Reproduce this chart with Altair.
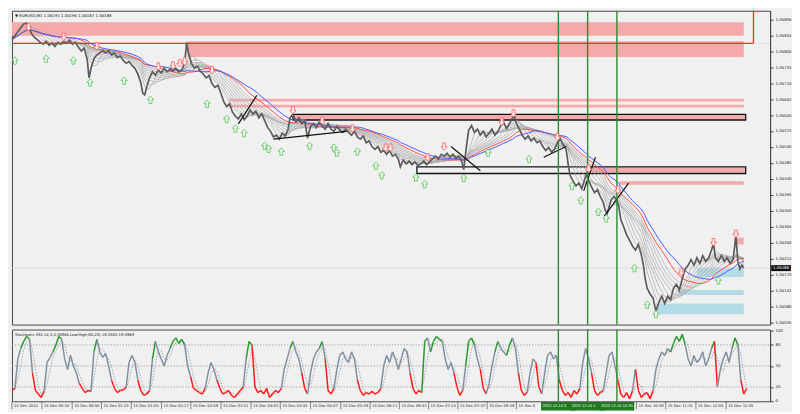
import altair as alt
import pandas as pd

# ---------------- data ----------------
bars = [0, 3, 6, 9, 12, 15, 17, 20, 23, 26,
        29, 32, 35, 38, 41, 44, 47, 50, 53, 56,
        59, 62, 65, 68, 71, 74, 77, 79, 81, 84,
        87, 90, 93, 96, 99, 102, 105, 108, 111, 114,
        117, 120, 123, 126, 129, 132, 134, 136, 138, 141,
        144, 147, 150, 153, 156, 159, 162, 165, 168, 171,
        174, 177, 179, 181, 184, 187, 190, 193, 196, 199,
        202, 205, 208, 211, 214, 217, 220, 223, 226, 229,
        232, 235, 238, 241, 244, 247, 250, 253, 256, 259,
        262, 265, 268, 271, 274, 277, 280, 283, 285, 288,
        291, 294, 297, 300, 303, 306, 309, 312, 315, 318,
        321, 324, 327, 330, 333, 336, 339, 342, 345, 348,
        351, 354, 357, 360, 363, 366, 369, 372, 375, 378,
        381, 384, 387, 390, 393, 396, 398, 401, 404, 407,
        410, 413, 416, 419, 422, 425, 428, 431, 434, 437,
        440, 443, 446, 449, 452, 455, 458, 461, 463, 466,
        468, 471, 474, 477, 480, 483, 486, 489, 492, 495,
        498, 501, 504, 507, 510, 513, 515, 517, 520, 523,
        526, 529, 532, 535, 538, 541, 544, 547, 550, 553,
        556, 559, 562, 565, 568, 570, 572, 575, 578, 581,
        584, 587, 589, 591, 594, 597, 600, 603, 606, 608,
        610, 612, 614, 617, 620, 622, 624, 627, 630, 633,
        636, 639, 642, 645, 647, 649, 651, 654, 657, 660,
        663, 666, 669, 672, 675, 678, 681, 684, 687, 690,
        693, 696, 699, 702, 705, 708, 711, 714, 717, 719,
        721, 724, 727, 730, 733, 736, 739, 742, 744, 746,
        748, 750]

close_points = [106833, 106844, 106855, 106866, 106877, 106879, 106871, 106850, 106839, 106833,
                106825, 106820, 106828, 106817, 106823, 106814, 106825, 106820, 106828, 106823,
                106831, 106820, 106825, 106812, 106801, 106809, 106779, 106725, 106752, 106779,
                106790, 106795, 106801, 106795, 106801, 106790, 106795, 106782, 106787, 106774,
                106766, 106771, 106760, 106752, 106736, 106712, 106682, 106677, 106698, 106725,
                106742, 106733, 106747, 106739, 106752, 106742, 106750, 106744, 106752, 106742,
                106747, 106766, 106825, 106793, 106766, 106752, 106758, 106744, 106736, 106725,
                106731, 106709, 106698, 106704, 106682, 106658, 106644, 106652, 106628, 106617,
                106609, 106623, 106607, 106617, 106634, 106623, 106631, 106612, 106623, 106604,
                106585, 106574, 106558, 106563, 106552, 106569, 106561, 106580, 106612, 106623,
                106601, 106612, 106596, 106604, 106555, 106588, 106596, 106585, 106601, 106590,
                106580, 106596, 106580, 106574, 106588, 106577, 106571, 106580, 106571, 106563,
                106574, 106558, 106552, 106561, 106542, 106547, 106531, 106523, 106531, 106515,
                106520, 106509, 106520, 106504, 106509, 106496, 106474, 106493, 106482, 106490,
                106480, 106488, 106477, 106482, 106490, 106480, 106488, 106496, 106504, 106496,
                106509, 106504, 106512, 106501, 106509, 106498, 106504, 106488, 106466, 106536,
                106577, 106590, 106571, 106580, 106563, 106574, 106558, 106569, 106580, 106563,
                106574, 106590, 106598, 106582, 106596, 106612, 106617, 106596, 106580, 106563,
                106552, 106561, 106547, 106555, 106542, 106547, 106531, 106520, 106528, 106515,
                106523, 106542, 106552, 106536, 106523, 106482, 106450, 106434, 106420, 106428,
                106412, 106439, 106455, 106434, 106417, 106401, 106409, 106390, 106374, 106352,
                106342, 106361, 106380, 106390, 106380, 106361, 106325, 106304, 106282, 106266,
                106250, 106239, 106255, 106226, 106199, 106158, 106131, 106115, 106104, 106066,
                106091, 106109, 106088, 106109, 106099, 106131, 106142, 106126, 106158, 106185,
                106196, 106212, 106196, 106217, 106201, 106223, 106207, 106217, 106239, 106258,
                106217, 106207, 106223, 106207, 106217, 106201, 106212, 106277, 106207, 106185,
                106196, 106188]

stoch_values = [15, 18, 60, 75, 85, 92, 88, 40, 15, 10,
                5, 15, 55, 62, 70, 80, 92, 88, 60, 45,
                65, 50, 40, 25, 18, 12, 15, 14, 70, 88,
                70, 62, 68, 50, 30, 18, 12, 15, 16, 20,
                55, 65, 55, 30, 15, 8, 10, 15, 60, 85,
                70, 60, 50, 65, 75, 85, 90, 82, 88, 80,
                50, 35, 18, 15, 12, 10, 18, 40, 55, 45,
                30, 18, 10, 12, 15, 8, 5, 10, 15, 20,
                60, 85, 80, 20, 12, 15, 10, 18, 5, 10,
                15, 12, 18, 45, 60, 75, 85, 70, 60, 40,
                18, 10, 40, 60, 70, 75, 85, 60, 15, 10,
                18, 45, 65, 70, 60, 55, 70, 60, 30, 15,
                8, 12, 10, 14, 10, 12, 18, 50, 65, 55,
                70, 60, 45, 60, 75, 70, 40, 18, 10, 15,
                12, 85, 90, 70, 85, 92, 88, 85, 60, 45,
                55, 40, 20, 8, 15, 50, 85, 90, 80, 60,
                45, 18, 10, 25, 50, 70, 85, 75, 70, 65,
                80, 90, 75, 40, 15, 8, 12, 40, 60, 55,
                20, 10, 40, 65, 70, 60, 65, 30, 15, 8,
                12, 5, 15, 10, 18, 55, 75, 60, 40, 15,
                8, 12, 15, 40, 65, 70, 50, 30, 10, 5,
                12, 3, 15, 45, 15, 5, 10, 12, 3, 15,
                45, 60, 70, 65, 75, 70, 82, 92, 85, 95,
                80, 60, 50, 65, 55, 60, 70, 50, 60, 75,
                85, 20, 45, 60, 70, 55, 75, 90, 80, 30,
                10, 18]
stoch_bars = list(range(0, 3 * len(stoch_values), 3))

# supply / demand zones: start bar, end bar, upper price, lower price (points)
pink_t0 = [0, 180, 222, 222, 288, 592, 622, 740]
pink_t1 = [750, 750, 750, 750, 752, 752, 750, 750]
pink_hi = [106882, 106828, 106666, 106649, 106622, 106471, 106433, 106274]
pink_lo = [106844, 106784, 106658, 106641, 106606, 106458, 106423, 106255]

blue_t0 = [702, 683, 660]
blue_t1 = [750, 750, 750]
blue_hi = [106190, 106126, 106088]
blue_lo = [106163, 106112, 106058]

box_t0 = [288, 415]
box_t1 = [752, 752]
box_hi = [106622, 106474]
box_lo = [106606, 106455]

# trend segments
seg_t0 = [232, 268, 450, 545, 586, 607]
seg_p0 = [106595, 106552, 106531, 106501, 106406, 106334]
seg_t1 = [251, 343, 480, 568, 598, 632]
seg_p1 = [106676, 106574, 106463, 106531, 106501, 106428]

# signal arrows
up_t = [3, 35, 63, 80, 115, 142, 200, 220, 229, 238, 259, 263, 276, 305, 330, 333, 354, 373,
        379, 414, 423, 463, 488, 530, 574, 583, 601, 609, 638, 651, 660, 724]
up_p = [106774, 106779, 106774, 106712, 106717, 106663, 106652, 106609, 106582, 106569,
        106533, 106525, 106517, 106533, 106528, 106514, 106517, 106477, 106450, 106444,
        106425, 106442, 106514, 106496, 106420, 106379, 106347, 106328, 106188, 106085,
        106058, 106153]
dn_t = [17, 53, 87, 150, 165, 172, 177, 205, 288, 318, 349, 383, 388, 426, 443, 502, 514,
        559, 591, 621, 686, 719, 742]
dn_p = [106868, 106841, 106814, 106757, 106760, 106766, 106771, 106747, 106633, 106604,
        106582, 106528, 106528, 106501, 106531, 106601, 106625, 106558, 106469, 106409,
        106177, 106261, 106285]

vline_t = [560, 590, 620]
vline_labels = ["2022.12.15 09:33", "2022.12.15 10:05", "2022.12.15 10:35"]

time_ticks = [0, 30.7, 61.7, 91.7, 122.3, 153.3, 183.3, 214.3, 245, 275, 306, 337, 367,
              397, 427, 457, 487, 517, 640, 670, 701, 732]
time_labels = ["14 Dec 2022", "15 Dec 00:10", "15 Dec 00:50", "15 Dec 01:23", "15 Dec 01:55",
               "15 Dec 02:27", "15 Dec 02:59", "15 Dec 03:31", "15 Dec 04:03", "15 Dec 04:35",
               "15 Dec 05:07", "15 Dec 05:39", "15 Dec 06:11", "15 Dec 06:43", "15 Dec 07:15",
               "15 Dec 07:47", "15 Dec 08:19", "15 Dec 08:51", "15 Dec 10:59", "15 Dec 11:31",
               "15 Dec 12:03", "15 Dec 12:35"]

price_ticks_pts = [106035, 106080, 106125, 106170, 106215, 106260, 106305, 106350, 106395,
                   106440, 106485, 106530, 106575, 106620, 106665, 106710, 106755, 106800,
                   106845, 106890]
resist_level = 106822
last_price = 106188
header_text = "▼ EURUSD,M1  1.06191 1.06196 1.06187 1.06188"
stoch_text = "Stochastic (M1,14,3,3,SMMA,Low/High,80,20) 18.3845 19.4969"
stoch_levels = [80, 50, 20]

fan_windows = [3, 5, 7, 9, 11, 13, 15, 17]
red_window = 20
blue_window = 24

# ---------------- layout ----------------
W = 761
HP = 315
HS = 72
FONT = "DejaVu Sans"
LF = 3.9

P = 1e5
xs = alt.Scale(domain=[0, 777], nice=False, zero=False)
ys = alt.Scale(domain=[1.060287, 1.069143], nice=False, zero=False)
ss = alt.Scale(domain=[-0.4, 101.9], nice=False, zero=False)

YAX = alt.Axis(orient="right", values=[v / P for v in price_ticks_pts], format=".5f",
               grid=False, title=None, tickSize=3, labelFontSize=LF, labelPadding=2,
               domainColor="#444", tickColor="#444", labelColor="#222", labelFont=FONT)
SAX = alt.Axis(orient="right", values=[0, 20, 50, 80, 100], grid=False, title=None,
               tickSize=3, labelFontSize=LF, labelPadding=2, domainColor="#444",
               tickColor="#444", labelColor="#222", labelFont=FONT)


def X(f):
    return alt.X(f, type="quantitative", scale=xs, axis=None)


def Y(f):
    return alt.Y(f, type="quantitative", scale=ys, axis=YAX)


def SYv(f):
    return alt.Y(f, type="quantitative", scale=ss, axis=SAX)


price_df = pd.DataFrame({"t": bars, "p": [v / P for v in close_points]})
pink_df = pd.DataFrame({"t0": pink_t0, "t1": pink_t1,
                        "hi": [v / P for v in pink_hi], "lo": [v / P for v in pink_lo]})
blue_df = pd.DataFrame({"t0": blue_t0, "t1": blue_t1,
                        "hi": [v / P for v in blue_hi], "lo": [v / P for v in blue_lo]})
box_df = pd.DataFrame({"t0": box_t0, "t1": box_t1,
                       "hi": [v / P for v in box_hi], "lo": [v / P for v in box_lo]})
seg_df = pd.DataFrame({"t0": seg_t0, "t1": seg_t1,
                       "p0": [v / P for v in seg_p0], "p1": [v / P for v in seg_p1]})
up_df = pd.DataFrame({"t": up_t, "p": [v / P for v in up_p]})
dn_df = pd.DataFrame({"t": dn_t, "p": [v / P for v in dn_p]})
vl_df = pd.DataFrame({"t": vline_t, "label": vline_labels})
res_df = pd.DataFrame({"t0": [0], "t1": [760], "p": [resist_level / P]})
last_df = pd.DataFrame({"p": [last_price / P], "label": [f"{last_price / P:.5f}"]})

layers = []
layers.append(alt.Chart(pink_df).mark_rect(color="#f5a9a9").encode(
    x=X("t0"), x2="t1", y=Y("hi"), y2="lo"))
layers.append(alt.Chart(blue_df).mark_rect(color="#b4dbe8").encode(
    x=X("t0"), x2="t1", y=Y("hi"), y2="lo"))
layers.append(alt.Chart(box_df).mark_rect(fillOpacity=0, stroke="#111", strokeWidth=1.3).encode(
    x=X("t0"), x2="t1", y=Y("hi"), y2="lo"))
layers.append(alt.Chart(last_df).mark_rule(color="#d8d8d8", strokeWidth=0.8).encode(
    y=Y("p"), x=alt.value(0), x2=alt.value(W)))

for k in fan_windows:
    layers.append(alt.Chart(price_df).transform_window(
        ma="mean(p)", frame=[-k, 0], sort=[alt.SortField("t")]
    ).mark_line(color="#a8a8a8", strokeWidth=0.7).encode(x=X("t"), y=Y("ma")))
layers.append(alt.Chart(price_df).transform_window(
    ma="mean(p)", frame=[-red_window, 0], sort=[alt.SortField("t")]
).mark_line(color="#ff4a4a", strokeWidth=1).encode(x=X("t"), y=Y("ma")))
layers.append(alt.Chart(price_df).transform_window(
    ma="mean(p)", frame=[-blue_window, 0], sort=[alt.SortField("t")]
).mark_line(color="#4a5aff", strokeWidth=1).encode(x=X("t"), y=Y("ma")))

layers.append(alt.Chart(price_df).mark_line(color="#5c5c5c", strokeWidth=1.7).encode(
    x=X("t"), y=Y("p")))

layers.append(alt.Chart(res_df).mark_rule(color="#ff2a2a", strokeWidth=1.3).encode(
    x=X("t0"), x2="t1", y=Y("p")))
layers.append(alt.Chart(res_df).mark_rule(color="#ff2a2a", strokeWidth=1.3).encode(
    x=X("t1"), y=Y("p"), y2=alt.value(0)))
layers.append(alt.Chart(res_df).mark_rule(color="#bbbbbb", strokeWidth=0.8, strokeDash=[1, 2]).encode(
    x=X("t1"), x2=alt.value(W), y=Y("p")))

layers.append(alt.Chart(seg_df).mark_rule(color="#111", strokeWidth=1.2).encode(
    x=X("t0"), x2="t1", y=Y("p0"), y2="p1"))
layers.append(alt.Chart(vl_df).mark_rule(color="#2e8b2e", strokeWidth=1.4).encode(
    x=X("t"), y=alt.value(0), y2=alt.value(HP)))

UP = "M0,-1L0.85,-0.05L0.38,-0.05L0.38,1L-0.38,1L-0.38,-0.05L-0.85,-0.05Z"
DN = "M0,1L0.85,0.05L0.38,0.05L0.38,-1L-0.38,-1L-0.38,0.05L-0.85,0.05Z"
layers.append(alt.Chart(up_df).mark_point(shape=UP, filled=True, fill="#eef9ee", stroke="#66c866",
                                          strokeWidth=0.9, size=55, opacity=1).encode(
    x=X("t"), y=Y("p")))
layers.append(alt.Chart(dn_df).mark_point(shape=DN, filled=True, fill="#fdeeee", stroke="#ff6a6a",
                                          strokeWidth=0.9, size=55, opacity=1).encode(
    x=X("t"), y=Y("p")))

# current price tag
layers.append(alt.Chart(last_df).mark_point(shape="M-3.3,-1L3.3,-1L3.3,1L-3.3,1Z", filled=True,
                                            color="#111", size=36, opacity=1).encode(
    y=Y("p"), x=alt.value(W + 11)))
layers.append(alt.Chart(last_df).mark_text(color="white", fontSize=LF, font=FONT, align="center",
                                           baseline="middle").encode(
    y=Y("p"), x=alt.value(W + 11), text="label:N"))
layers.append(alt.Chart(pd.DataFrame({"s": [header_text]})).mark_text(
    fontSize=3.9, font=FONT, align="left", baseline="middle", color="#111").encode(
    x=alt.value(3), y=alt.value(5), text="s:N"))

price_chart = alt.layer(*layers).properties(width=W, height=HP)

# ---------------- stochastic panel ----------------
st_df = pd.DataFrame({"t": stoch_bars, "v": stoch_values})
seg_rows = []
for i in range(1, len(stoch_values)):
    v = stoch_values[i]
    cls = "lo" if v <= 20 else ("hi" if v >= 80 else "mid")
    seg_rows.append({"t0": stoch_bars[i - 1], "t1": stoch_bars[i],
                     "v0": stoch_values[i - 1], "v1": v, "cls": cls})
sseg_df = pd.DataFrame(seg_rows)
lvl_df = pd.DataFrame({"v": stoch_levels})
tl_df = pd.DataFrame({"t": time_ticks, "label": time_labels})
tl_main = tl_df.iloc[:17]
tl_cut = tl_df.iloc[17:18]
tl_right = tl_df.iloc[18:]

slayers = []
slayers.append(alt.Chart(lvl_df).mark_rule(color="#9a9a9a", strokeWidth=0.8, strokeDash=[1.5, 1.5]).encode(
    y=SYv("v"), x=alt.value(0), x2=alt.value(W)))
slayers.append(alt.Chart(st_df).transform_window(
    sig="mean(v)", frame=[-2, 0], sort=[alt.SortField("t")]
).mark_line(color="#9aa0a8", strokeWidth=0.9, strokeDash=[1.5, 1.5]).encode(
    x=X("t"), y=SYv("sig")))
slayers.append(alt.Chart(sseg_df).mark_rule(strokeWidth=1.5).encode(
    x=X("t0"), x2="t1", y=SYv("v0"), y2="v1",
    color=alt.Color("cls:N", scale=alt.Scale(domain=["lo", "mid", "hi"],
                                             range=["#ff1a1a", "#8090a0", "#2a9a2a"]),
                    legend=None)))
slayers.append(alt.Chart(vl_df).mark_rule(color="#2e8b2e", strokeWidth=1.4).encode(
    x=X("t"), y=alt.value(0), y2=alt.value(HS)))
slayers.append(alt.Chart(pd.DataFrame({"s": [stoch_text]})).mark_text(
    fontSize=3.8, font=FONT, align="left", baseline="middle", color="#111").encode(
    x=alt.value(3), y=alt.value(5), text="s:N"))
# time axis
slayers.append(alt.Chart(tl_df).mark_rule(color="#555", strokeWidth=0.7).encode(
    x=X("t"), y=alt.value(HS), y2=alt.value(HS + 8)))
for part, lim in ((tl_main, 28), (tl_cut, 20), (tl_right, 40)):
    slayers.append(alt.Chart(part).mark_text(fontSize=3.8, font=FONT, align="left", baseline="middle",
                                             dx=2, color="#222", limit=lim, ellipsis=" ").encode(
        x=X("t"), y=alt.value(HS + 5), text="label:N"))
# green time tags at the vertical lines (later ones cover earlier ones)
for i in range(len(vline_t)):
    one = vl_df.iloc[i:i + 1]
    slayers.append(alt.Chart(one).mark_point(shape="M-4.1,-1L4.1,-1L4.1,1L-4.1,1Z", filled=True,
                                             color="#1f7a1f", size=72, opacity=1).encode(
        x=X("t"), y=alt.value(HS + 5)))
    last = i == len(vline_t) - 1
    slayers.append(alt.Chart(one).mark_text(fontSize=3.6, font=FONT, align="left", baseline="middle",
                                            dx=-16, color="white", limit=(34 if last else 26),
                                            ellipsis=" ").encode(
        x=X("t"), y=alt.value(HS + 5), text="label:N"))

stoch_chart = alt.layer(*slayers).properties(width=W, height=HS)

chart = alt.vconcat(price_chart, stoch_chart, spacing=1, padding=0).configure(
    background="#f0f0f0").configure_view(stroke="#4a4a4a", strokeWidth=1)

chart.save("out.html", embed_options={"renderer": "svg", "actions": False})
